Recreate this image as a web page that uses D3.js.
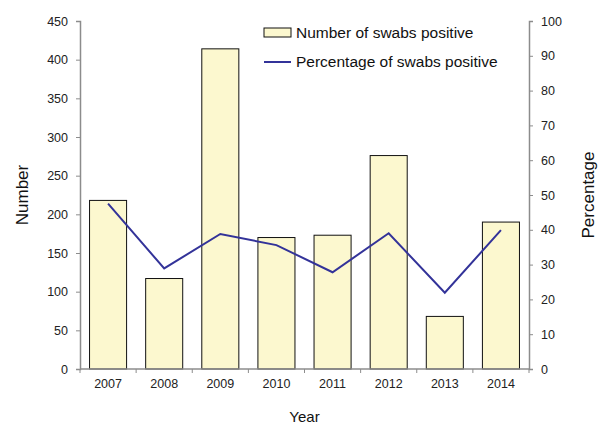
<!DOCTYPE html>
<html><head><meta charset="utf-8">
<script src="https://cdn.jsdelivr.net/npm/d3@7"></script>
<style>body{margin:0;background:#fff;} svg{display:block;font-family:"Liberation Sans",Arial,sans-serif;}</style>
</head><body>
<svg id="chart" width="599" height="424"></svg>
<script>
const years = ["2007","2008","2009","2010","2011","2012","2013","2014"];
const numberPositive = [218, 117, 414, 170, 173, 276, 68, 190];
const percentPositive = [47.5, 28.9, 38.8, 35.6, 27.8, 39.0, 21.9, 39.9];
const leftTicks = [0,50,100,150,200,250,300,350,400,450];
const rightTicks = [0,10,20,30,40,50,60,70,80,90,100];

const svg = d3.select("#chart");
const L = 80, R = 529, T = 21, B = 369;
const axisColor = "#8c8c8c";

const x = d3.scaleBand().domain(years).range([L, R]).paddingInner(0.34).paddingOuter(0.17);
const xb = d3.scaleBand().domain(years).range([L, R]);
const yL = d3.scaleLinear().domain([0,450]).range([B, T]);
const yR = d3.scaleLinear().domain([0,100]).range([B, T]);

// bars
svg.append("g").selectAll("rect").data(years).join("rect")
  .attr("x", d => x(d)).attr("width", x.bandwidth())
  .attr("y", (d,i) => yL(numberPositive[i])).attr("height", (d,i) => B - yL(numberPositive[i]))
  .attr("fill", "#FCF8CF").attr("stroke", "#111").attr("stroke-width", 1);

// line
const line = d3.line().x((d,i) => xb(years[i]) + xb.bandwidth()/2).y(d => yR(d));
svg.append("path").datum(percentPositive).attr("d", line)
  .attr("fill","none").attr("stroke","#333399").attr("stroke-width",2);

function styleAxis(g){
  g.selectAll(".domain").attr("stroke", axisColor).attr("stroke-width", 1.5);
  g.selectAll(".tick line").attr("stroke", axisColor).attr("stroke-width", 1);
  g.selectAll(".tick text").attr("fill", "#222").style("font-size","12.5px").style("font-family","'Liberation Sans',Arial,sans-serif");
}

const gl = svg.append("g").attr("transform", `translate(${L},0)`)
  .call(d3.axisLeft(yL).tickValues(leftTicks).tickSize(4).tickPadding(8).tickSizeOuter(4));
styleAxis(gl);
const gr = svg.append("g").attr("transform", `translate(${R},0)`)
  .call(d3.axisRight(yR).tickValues(rightTicks).tickSize(4).tickPadding(8).tickSizeOuter(4));
styleAxis(gr);

// bottom axis with ticks at band boundaries
const gb = svg.append("g").attr("transform", `translate(0,${B})`);
gb.append("line").attr("x1", L).attr("x2", R).attr("y1",0).attr("y2",0).attr("stroke",axisColor).attr("stroke-width",1.5);
gb.selectAll("line.tk").data(years.concat(["end"])).join("line").attr("class","tk")
  .attr("x1",(d,i)=> L + i*xb.step()).attr("x2",(d,i)=> L + i*xb.step())
  .attr("y1",0).attr("y2",4).attr("stroke",axisColor);
gb.selectAll("text").data(years).join("text")
  .attr("x", d => xb(d) + xb.bandwidth()/2).attr("y", 19)
  .attr("text-anchor","middle").attr("fill","#222").style("font-size","12.5px").text(d => d);

// axis titles
svg.append("text").attr("transform", `translate(28,${(T+B)/2}) rotate(-90)`)
  .attr("text-anchor","middle").style("font-size","17px").attr("fill","#111").text("Number");
svg.append("text").attr("transform", `translate(594,${(T+B)/2}) rotate(-90)`)
  .attr("text-anchor","middle").style("font-size","17px").attr("fill","#111").text("Percentage");
svg.append("text").attr("x", (L+R)/2).attr("y", 422)
  .attr("text-anchor","middle").style("font-size","15px").attr("fill","#111").text("Year");

// legend
const lg = svg.append("g");
lg.append("rect").attr("x",264).attr("y",28).attr("width",27).attr("height",9)
  .attr("fill","#FCF8CF").attr("stroke","#111");
lg.append("text").attr("x",296).attr("y",38).style("font-size","15.5px").attr("fill","#111").text("Number of swabs positive");
lg.append("line").attr("x1",264).attr("x2",291).attr("y1",62).attr("y2",62).attr("stroke","#333399").attr("stroke-width",2);
lg.append("text").attr("x",296).attr("y",67).style("font-size","15.5px").attr("fill","#111").text("Percentage of swabs positive");
</script>
</body></html>
